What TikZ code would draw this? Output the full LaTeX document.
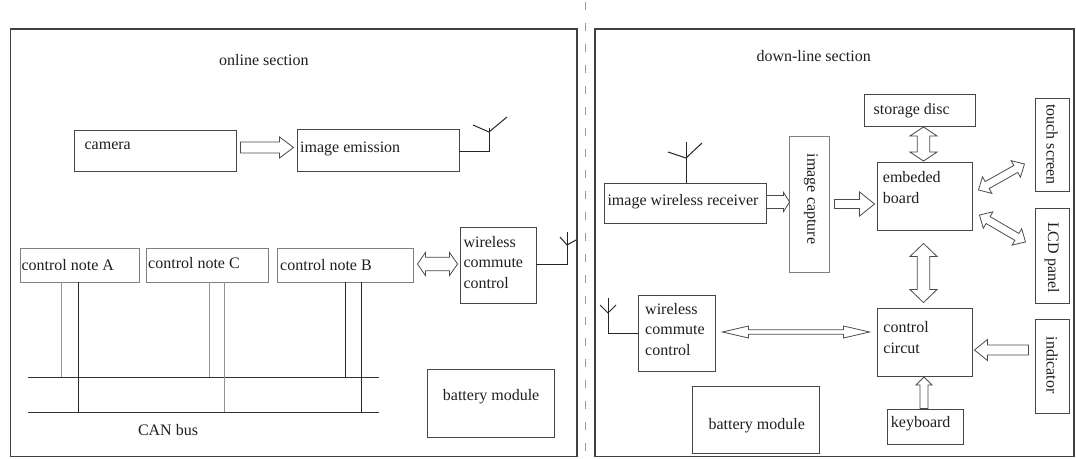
\documentclass[tikz,border=0pt]{standalone}
\usepackage{fontspec}
\setmainfont{Liberation Serif}
\usetikzlibrary{calc}
\newdimen\HAdx
\newdimen\HAdy
\newcommand{\HAprep}[2]{%
  \pgfextractx{\HAdx}{\pgfpointdiff{\pgfpointanchor{#1}{center}}{\pgfpointanchor{#2}{center}}}%
  \pgfextracty{\HAdy}{\pgfpointdiff{\pgfpointanchor{#1}{center}}{\pgfpointanchor{#2}{center}}}%
  \pgfmathparse{atan2(\the\HAdy,\the\HAdx)}\xdef\HAang{\pgfmathresult}%
  \pgfmathparse{veclen(\the\HAdx,\the\HAdy)}\xdef\HAlen{\pgfmathresult}%
}
% single hollow arrow: from, to, shaft half width, head half width, head length
\newcommand{\sarrow}[5]{\HAprep{#1}{#2}%
  \draw[harrow, shift={(#1)}, rotate=\HAang] (0pt,-#3pt) -- ({\HAlen pt-#5pt},-#3pt) -- ({\HAlen pt-#5pt},-#4pt) -- (\HAlen pt,0pt) -- ({\HAlen pt-#5pt},#4pt) -- ({\HAlen pt-#5pt},#3pt) -- (0pt,#3pt) -- cycle;}
% double hollow arrow
\newcommand{\darrow}[5]{\HAprep{#1}{#2}%
  \draw[harrow, shift={(#1)}, rotate=\HAang] (0pt,0pt) -- (#5pt,#4pt) -- (#5pt,#3pt) -- ({\HAlen pt-#5pt},#3pt) -- ({\HAlen pt-#5pt},#4pt) -- (\HAlen pt,0pt) -- ({\HAlen pt-#5pt},-#4pt) -- ({\HAlen pt-#5pt},-#3pt) -- (#5pt,-#3pt) -- (#5pt,-#4pt) -- cycle;}
% box: name, style, x1, y1, x2, y2
\newcommand{\bx}[6]{\node[#2, minimum width={(#5-#3)*1pt}, minimum height={(#6-#4)*1pt}] (#1) at ({(#3+#5)/2},{(#4+#6)/2}) {};}

\begin{document}
\begin{tikzpicture}[x=1pt,y=-1pt,
  box/.style={draw=black!72, line width=0.9pt, inner sep=0pt},
  lbox/.style={draw=black!50, line width=0.9pt, inner sep=0pt},
  frame/.style={draw=black!75, line width=1.3pt, inner sep=0pt},
  txt/.style={font=\fontsize{16}{20.5}\selectfont, text=black!88, inner sep=0pt, align=left},
  harrow/.style={draw=black!70, line width=0.8pt, fill=white, line join=miter},
  ant/.style={draw=black!85, line width=1pt},
  busline/.style={draw=black!80, line width=1pt},
  gline/.style={draw=black!42, line width=0.9pt},
  dline/.style={draw=black!85, line width=1pt},
  sepline/.style={draw=black!40, line width=0.8pt, dash pattern=on 8pt off 13pt}]

\useasboundingbox (0,0) rectangle (1076,458);
\fill[white] (0,0) rectangle (1076,458);

% frames and divider
\bx{frameL}{frame}{10.3}{29}{577}{456.5}
\bx{frameR}{frame}{595}{29}{1074}{456.5}
\draw[sepline] (585,2) -- (585,458);

% ---------- online section ----------
\node[txt, anchor=base west] (titleL) at (219,65) {online section};

\bx{camera}{box}{74}{130}{236}{171}
\node[txt, anchor=base west] (camera-t) at (84.4,149.5) {camera};
\bx{emission}{box}{297}{129}{459}{171}
\node[txt, anchor=base west] (emission-t) at (300,152) {image emission};

\bx{noteA}{lbox}{20}{248}{139.5}{282}
\node[txt, anchor=base west] (noteA-t) at (21.4,270) {control note A};
\bx{noteC}{lbox}{146}{248}{268}{282}
\node[txt, anchor=base west] (noteC-t) at (148,268) {control note C};
\bx{noteB}{lbox}{277}{248}{413}{282}
\node[txt, anchor=base west] (noteB-t) at (280,270) {control note B};

\bx{wirelessL}{box}{460}{227}{536}{303}
\node[txt, anchor=base west] (wirelessL-t) at (463.3,288) {wireless\\commute\\control};

\bx{batteryL}{box}{427}{369}{554}{437}
\node[txt, anchor=base west] (batteryL-t) at (442.7,400.5) {battery module};

% CAN bus
\coordinate (bus1w) at (27.5,377);
\coordinate (bus1e) at (379,377);
\coordinate (bus2w) at (27.5,412);
\coordinate (bus2e) at (379,412);
\draw[busline] (bus1w) -- (bus1e);
\draw[busline] (bus2w) -- (bus2e);
\draw[gline] (noteA.south -| 61,0) -- (bus1w -| 61,0);
\draw[dline] (noteA.south -| 78.5,0) -- (bus2w -| 78.5,0);
\draw[gline] (noteC.south -| 209,0) -- (bus1w -| 209,0);
\draw[gline] (noteC.south -| 224,0) -- (bus2w -| 224,0);
\draw[dline] (noteB.south -| 345,0) -- (bus1w -| 345,0);
\draw[dline] (noteB.south -| 361,0) -- (bus2w -| 361,0);
\node[txt, anchor=base west] (canbus) at (137.8,435) {CAN bus};

% antennas (left)
\draw[ant] (emission.east |- 0,151) -- (489,151) -- (489,128);
\draw[ant] (473,125) -- (489,132) -- (507,117);
\draw[ant] (wirelessL.east |- 0,264) -- (567,264) -- (567,232);
\draw[ant] (560,237) -- (567,245) -- (576,240);

% arrows (left)
\coordinate (a1s) at ($(camera.east)+(4,-3)$);
\coordinate (a1e) at ($(emission.west)+(-3,-2.5)$);
\sarrow{a1s}{a1e}{5.5}{10.5}{14}
\coordinate (a2s) at ($(noteB.east)+(4,-1)$);
\coordinate (a2e) at ($(wirelessL.west)+(-2,-1)$);
\darrow{a2s}{a2e}{6.7}{11.5}{8}

% ---------- down-line section ----------
\node[txt, anchor=base west] (titleR) at (756.4,61.7) {down-line section};

\bx{storage}{box}{864}{94}{975}{126}
\node[txt, anchor=base west] (storage-t) at (873.5,114.3) {storage disc};
\bx{board}{box}{877}{162}{972}{230}
\node[txt, anchor=base west] (board-t) at (882.7,203.3) {embeded\\board};
\bx{touch}{box}{1035}{98}{1069}{191}
\node[txt, rotate=-90] (touch-t) at (touch.center) {touch screen};
\bx{lcd}{box}{1035}{208}{1069}{303}
\node[txt, rotate=-90] (lcd-t) at ($(lcd.center)+(0,2)$) {LCD panel};
\bx{receiver}{box}{604}{183}{766}{223}
\node[txt, anchor=base west] (receiver-t) at (607.3,205) {image wireless receiver};
\bx{capture}{lbox}{789}{136}{829}{272}
\node[txt, rotate=-90] (capture-t) at (811,199) {image capture};
\bx{circuit}{box}{877}{308}{972}{376}
\node[txt, anchor=base west] (circuit-t) at (883.2,353.3) {control\\circut};
\bx{wirelessR}{box}{638}{295}{715}{371}
\node[txt, anchor=base west] (wirelessR-t) at (645,355) {wireless\\commute\\control};
\bx{indicator}{box}{1035}{319}{1069}{413}
\node[txt, rotate=-90] (indicator-t) at ($(indicator.center)+(0,-1)$) {indicator};
\bx{keyboard}{box}{887}{409}{963}{444}
\node[txt, anchor=base west] (keyboard-t) at (890.7,427.3) {keyboard};
\bx{batteryR}{box}{692}{386}{819}{453}
\node[txt, anchor=base west] (batteryR-t) at (708.3,429) {battery module};

% antennas (right)
\draw[ant] (receiver.north -| 686,0) -- (686,142);
\draw[ant] (668,152) -- (686,158) -- (702,143);
\draw[ant] (wirelessR.west |- 0,333) -- (608,333) -- (608,298);
\draw[ant] (600,305) -- (608,313) -- (616,305);

% arrows (right)
\coordinate (a3s) at ($(receiver.east)+(0,-1)$);
\coordinate (a3e) at ($(capture.west)+(1,-2)$);
\sarrow{a3s}{a3e}{6.5}{9.5}{6}
\coordinate (a4s) at ($(capture.east)+(5,0)$);
\coordinate (a4e) at ($(board.west)+(-2,8)$);
\sarrow{a4s}{a4e}{4.5}{12}{15}
\coordinate (a5s) at ($(storage.south)+(4,0.5)$);
\coordinate (a5e) at ($(board.north)+(-1,-0.5)$);
\darrow{a5s}{a5e}{6.3}{13.5}{9}
\coordinate (a6s) at ($(board.south)+(-1,13)$);
\coordinate (a6e) at ($(circuit.north)+(-1,-5)$);
\darrow{a6s}{a6e}{6.3}{13.5}{13}
\coordinate (a7s) at ($(board.east)+(6,-6)$);
\coordinate (a7e) at ($(touch.west)+(-10,19.5)$);
\darrow{a7s}{a7e}{4}{9.5}{10}
\coordinate (a8s) at ($(board.east)+(7,19)$);
\coordinate (a8e) at ($(lcd.west)+(-9,-13.5)$);
\darrow{a8s}{a8e}{4}{9.5}{10}
\coordinate (a9s) at ($(wirelessR.east)+(7,-1)$);
\coordinate (a9e) at ($(circuit.west)+(-7,-10)$);
\darrow{a9s}{a9e}{2.2}{6}{26}
\coordinate (a10s) at ($(indicator.west)+(-6,-16)$);
\coordinate (a10e) at ($(circuit.east)+(2,8)$);
\sarrow{a10s}{a10e}{5}{10.5}{13}
\coordinate (a11s) at ($(keyboard.north)+(-1,0)$);
\coordinate (a11e) at ($(circuit.south)+(-0.5,0.5)$);
\sarrow{a11s}{a11e}{4}{8}{8}

\end{tikzpicture}
\end{document}
